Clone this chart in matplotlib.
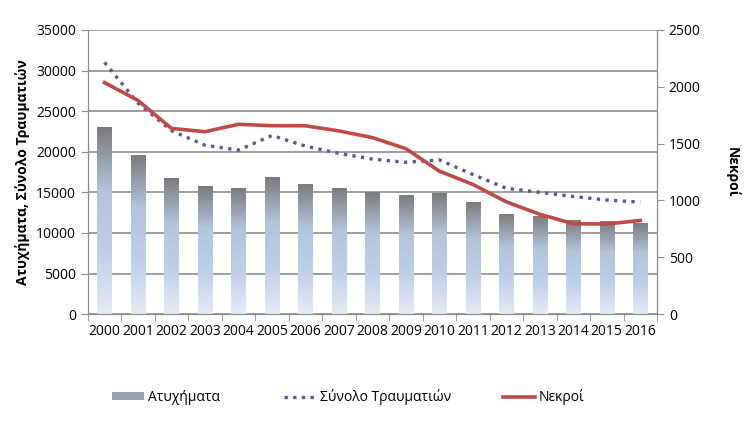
import matplotlib
matplotlib.use('Agg')
import matplotlib.pyplot as plt
import numpy as np
from matplotlib.colors import LinearSegmentedColormap
from matplotlib.patches import Patch
from matplotlib.lines import Line2D

years = [str(y) for y in range(2000, 2017)]
atyximata = [23000, 19600, 16800, 15800, 15550, 16900, 16050, 15550, 15050,
             14700, 14900, 13800, 12350, 12100, 11650, 11450, 11250]
traumaties = [31000, 26000, 22600, 20800, 20200, 22000, 20700, 19800, 19100,
              18700, 19000, 17200, 15500, 15000, 14500, 14050, 13800]
nekroi = [2037, 1880, 1634, 1605, 1670, 1658, 1657, 1612, 1553,
          1456, 1258, 1141, 988, 879, 795, 793, 824]

plt.rcParams['font.family'] = ['Open Sans', 'DejaVu Sans']

fig = plt.figure(figsize=(7.5, 4.28), dpi=100)
ax = fig.add_axes([0.117, 0.266, 0.759, 0.664])
x = np.arange(len(years))

# gradient bars: dark grey at top, light blue lower down
cmap = LinearSegmentedColormap.from_list('bar', ['#e6ebf4', '#bfcfe7', '#b3c3da', '#7a7a7a'])
grad = np.linspace(0, 1, 256).reshape(-1, 1)
bars = ax.bar(x, atyximata, width=0.42, color='none', zorder=2)
for b in bars:
    bx, by = b.get_x(), b.get_y()
    w, h = b.get_width(), b.get_height()
    im = ax.imshow(grad, extent=[bx, bx + w, by, by + h], origin='lower',
                   cmap=cmap, aspect='auto', zorder=2)
    im.set_clip_path(b)

ax.plot(x, traumaties, color='#5c5a8c', linestyle=(0, (1, 1.6)), linewidth=2.4, zorder=3)

ax.set_xlim(-0.5, len(years) - 0.5)
ax.set_ylim(0, 35000)
ax.set_yticks(np.arange(0, 35001, 5000))
ax.grid(axis='y', color='#8c8c8c', linewidth=1.2, zorder=0)
ax.set_axisbelow(True)
ax.set_xticks(x)
ax.set_xticklabels(years)
ax.set_xticks(np.arange(-0.5, len(years), 1), minor=True)
ax.tick_params(axis='x', which='major', length=0, labelsize=10, pad=7)
ax.tick_params(axis='x', which='minor', length=5, color='#8c8c8c')
ax.tick_params(axis='y', labelsize=10, length=5, color='#8c8c8c')
ax.set_ylabel('Ατυχήματα, Σύνολο Τραυματιών', fontsize=10, fontweight='bold')
ax.spines['top'].set_visible(False)
for s in ['left', 'bottom', 'right']:
    ax.spines[s].set_color('#8c8c8c')

ax2 = ax.twinx()
ax2.plot(x, nekroi, color='#be4b48', linewidth=2.6, zorder=4)
ax2.set_ylim(0, 2500)
ax2.set_yticks(np.arange(0, 2501, 500))
ax2.tick_params(axis='y', labelsize=10, length=5, color='#8c8c8c')
ax2.set_ylabel('Νεκροί', fontsize=10, fontweight='bold', rotation=270, labelpad=28)
ax2.spines['top'].set_visible(False)
for s in ['left', 'bottom', 'right']:
    ax2.spines[s].set_color('#8c8c8c')

handles = [Patch(facecolor='#9aa4b4', edgecolor='none'),
           Line2D([0], [0], color='#5c5a8c', linestyle=(0, (1, 1.6)), linewidth=2.4),
           Line2D([0], [0], color='#be4b48', linewidth=2.6)]
labels = ['Ατυχήματα', 'Σύνολο Τραυματιών', 'Νεκροί']
xpos = [112 / 750, 284 / 750, 503 / 750]
for h, lab, xp in zip(handles, labels, xpos):
    fig.legend([h], [lab], loc='center left', bbox_to_anchor=(xp, 0.072),
               frameon=False, fontsize=10, handlelength=2.3, handletextpad=0.3,
               handleheight=0.5, borderaxespad=0, borderpad=0)

fig.savefig('out.png', dpi=100)
